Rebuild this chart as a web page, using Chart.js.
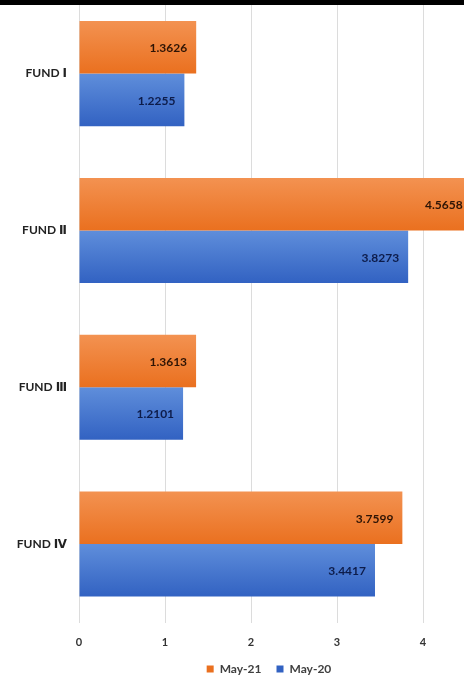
<!DOCTYPE html>
<html>
<head>
<meta charset="utf-8">
<script src="https://cdn.jsdelivr.net/npm/chart.js@4"></script>
<style>
  html, body { margin: 0; padding: 0; background: #fff; }
  #wrap { position: relative; width: 464px; height: 677px; overflow: hidden; background: #fff; }
  #holder { position: absolute; left: 0; top: -24px; width: 538px; height: 709px; }
  #topbar { position: absolute; left: 0; top: 0; width: 464px; height: 5px; background: #000; z-index: 2; }
</style>
</head>
<body>
<div id="wrap">
  <div id="topbar"></div>
  <div id="holder"><canvas id="fundChart"></canvas></div>
</div>
<script>
let funds = ["FUND Ⅰ", "FUND Ⅱ", "FUND Ⅲ", "FUND Ⅳ"];
let may21 = [1.3626, 4.5658, 1.3613, 3.7599];
let may20 = [1.2255, 3.8273, 1.2101, 3.4417];
let seriesNames = ["May-21", "May-20"];
let xTicks = [0, 1, 2, 3, 4, 5];

const catPct = 0.67;

function barGradient(context, top, bottom, solid) {
  let chart = context.chart;
  if (!chart.chartArea || !chart.scales.y) return solid;
  let y = chart.scales.y;
  let c = y.getPixelForValue(context.dataIndex);
  let half = (y.height / funds.length) * catPct / 2;
  let y0 = context.datasetIndex === 0 ? c - half : c;
  let g = chart.ctx.createLinearGradient(0, y0, 0, y0 + half);
  g.addColorStop(0, top);
  g.addColorStop(1, bottom);
  return g;
}

// value text inside the end of each bar
const valueLabels = {
  id: "valueLabels",
  afterDatasetsDraw(chart) {
    let ctx = chart.ctx;
    ctx.save();
    ctx.font = "bold 12px Lato, 'Open Sans', sans-serif";
    ctx.textAlign = "right";
    ctx.textBaseline = "middle";
    chart.data.datasets.forEach((ds, i) => {
      let meta = chart.getDatasetMeta(i);
      ctx.fillStyle = i === 0 ? "#2e1405" : "#0d1c4a";
      meta.data.forEach((bar, j) => {
        ctx.fillText(ds.data[j].toFixed(4), bar.x - 9, bar.y + 1);
      });
    });
    ctx.restore();
  }
};

new Chart(document.getElementById("fundChart"), {
  type: "bar",
  data: {
    labels: funds,
    datasets: [
      {
        label: seriesNames[0],
        data: may21,
        backgroundColor: (c) => barGradient(c, "#f39251", "#ea701f", "#ee7b30"),
        borderWidth: 0,
      },
      {
        label: seriesNames[1],
        data: may20,
        backgroundColor: (c) => barGradient(c, "#5f8edb", "#3262c2", "#4472c4"),
        borderWidth: 0,
      },
    ],
  },
  options: {
    indexAxis: "y",
    responsive: true,
    maintainAspectRatio: false,
    animation: false,
    datasets: { bar: { categoryPercentage: catPct, barPercentage: 1.0 } },
    layout: { padding: 0 },
    scales: {
      x: {
        min: 0,
        max: 5.337,
        afterBuildTicks: (s) => { s.ticks = xTicks.map((v) => ({ value: v })); },
        afterFit: (s) => { s.height = 25.5; },
        grid: { color: "#dcdcdc", lineWidth: 1, drawTicks: false },
        border: { display: false },
        ticks: {
          padding: 13.5,
          color: "#333",
          font: { family: "Lato, sans-serif", size: 11, weight: "bold" },
        },
      },
      y: {
        afterFit: (s) => { s.width = 79; },
        grid: { display: false, drawTicks: false },
        border: { color: "#dcdcdc" },
        ticks: {
          padding: 12,
          color: "#222",
          font: { family: "Lato, 'DejaVu Sans', sans-serif", size: 12, weight: "bold" },
        },
      },
    },
    plugins: {
      legend: {
        position: "bottom",
        labels: {
          boxWidth: 7,
          boxHeight: 7,
          padding: 15,
          color: "#404040",
          font: { family: "Lato, sans-serif", size: 12, weight: "bold" },
        },
      },
      tooltip: { enabled: false },
    },
  },
  plugins: [valueLabels],
});
</script>
</body>
</html>
